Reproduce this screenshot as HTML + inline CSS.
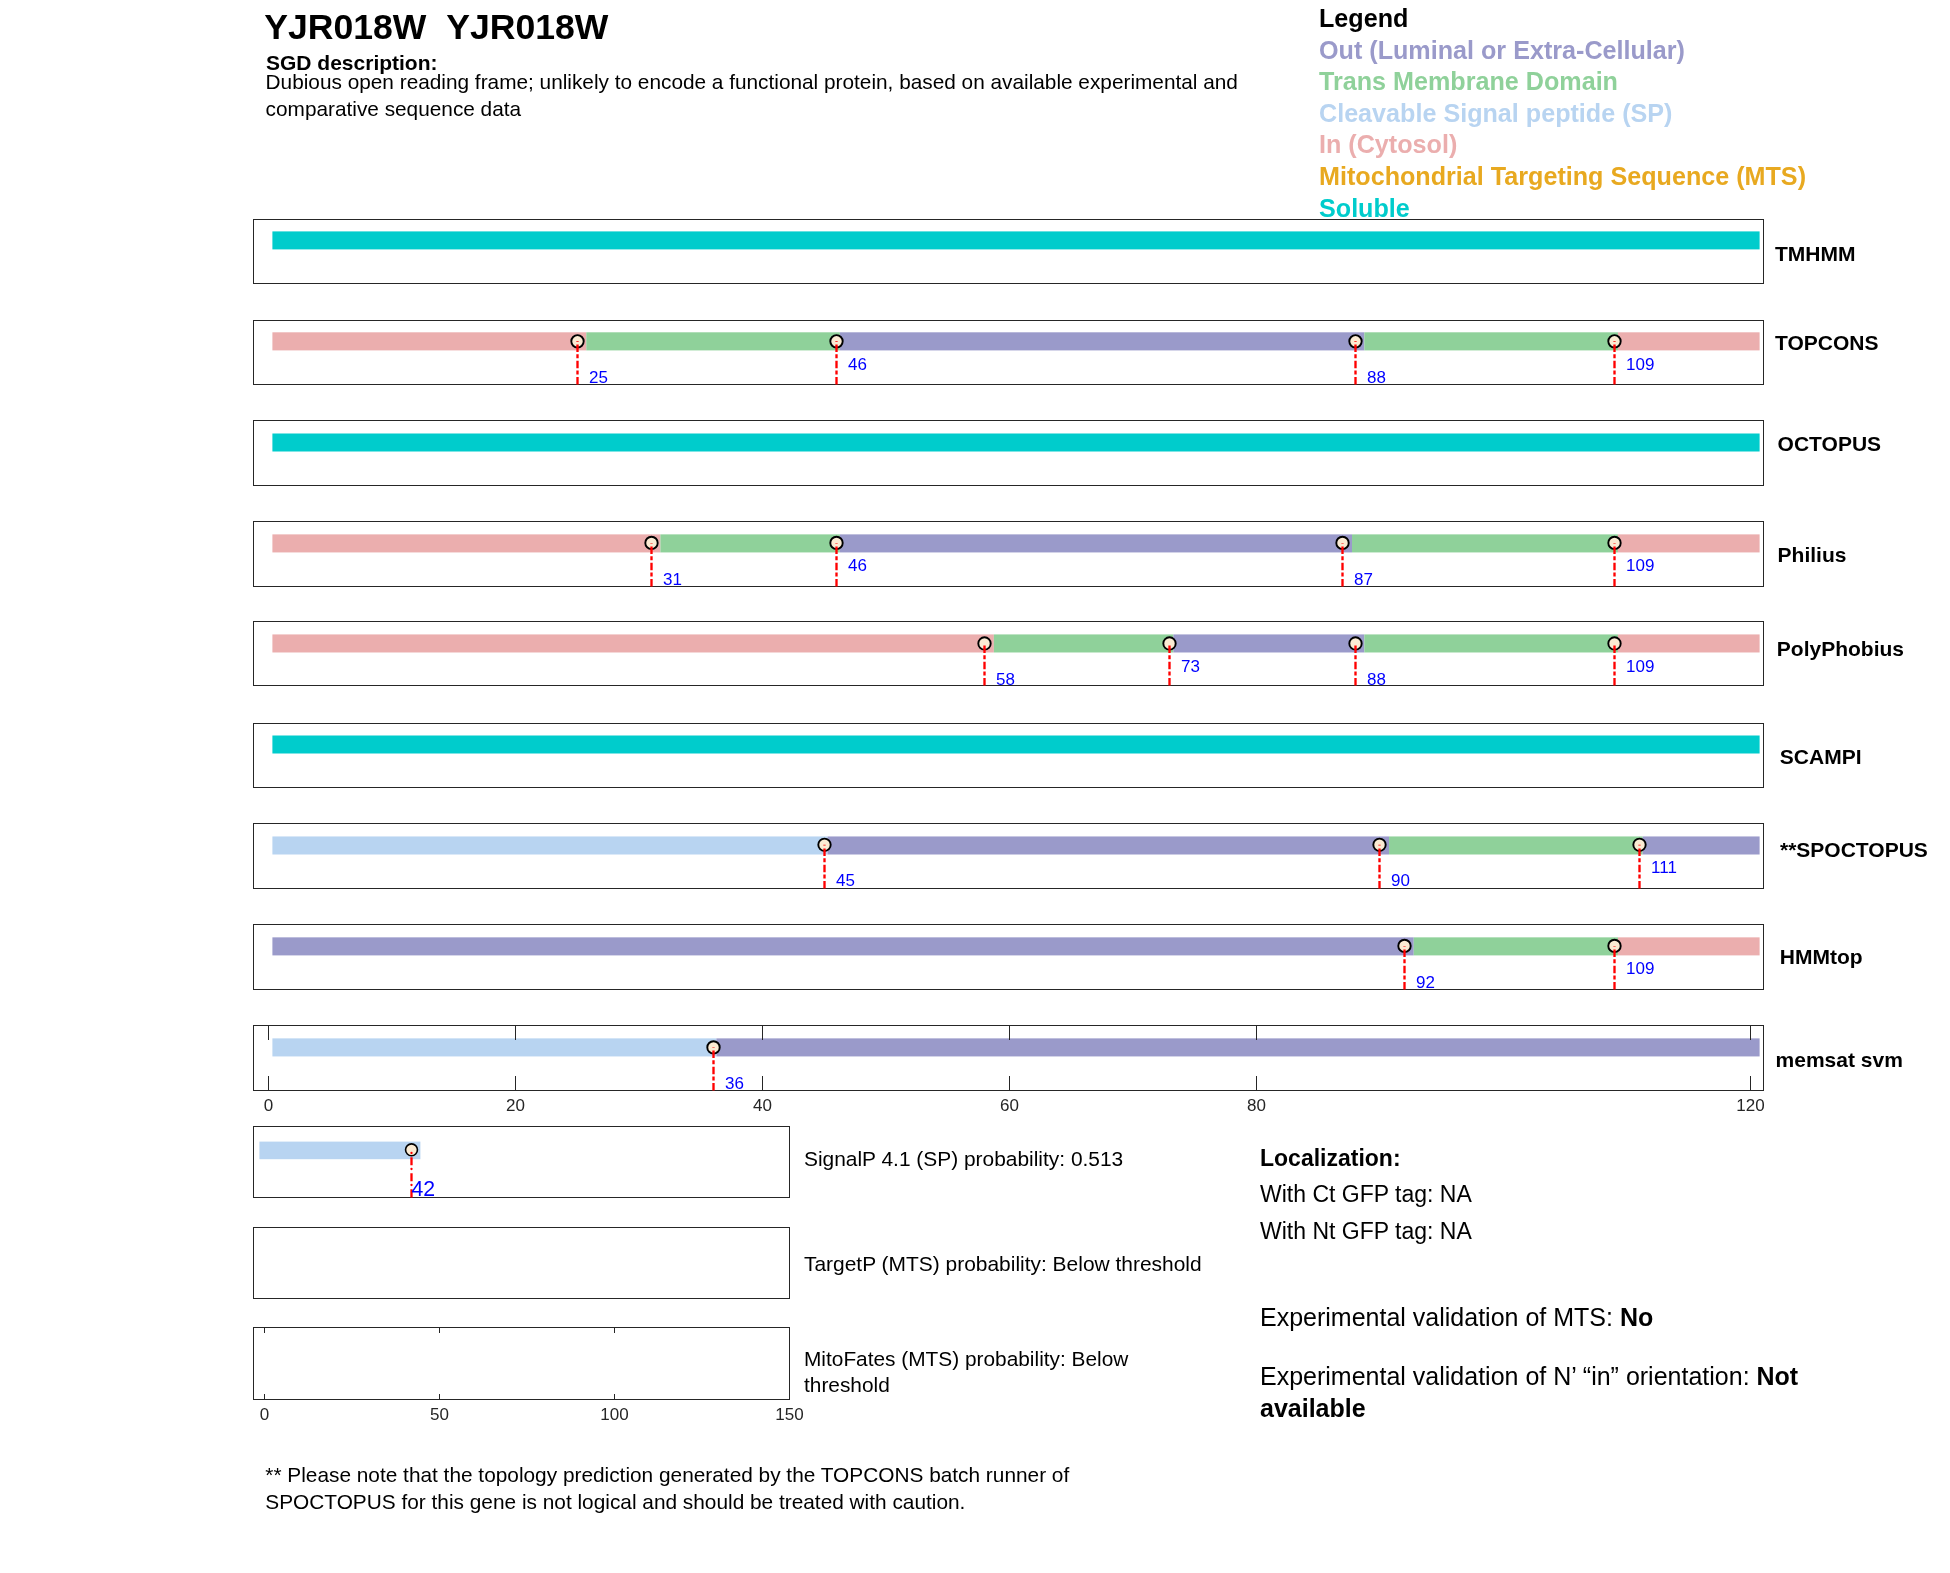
<!DOCTYPE html>
<html><head><meta charset="utf-8"><title>YJR018W</title>
<style>
html,body{margin:0;padding:0;background:#fff;}
body{width:1950px;height:1573px;overflow:hidden;position:relative;}
svg{position:absolute;left:0;top:0;will-change:transform;}
text{font-family:"Liberation Sans",sans-serif;}
</style></head><body>
<svg width="1950" height="1573" viewBox="0 0 1950 1573">
<rect x="0" y="0" width="1950" height="1573" fill="#fff"/>

<text x="264.3" y="38.8" font-size="35.6" font-weight="bold" fill="#000">YJR018W&#160;&#160;YJR018W</text>
<text x="266" y="69.8" font-size="21" font-weight="bold" fill="#000">SGD description:</text>
<text x="265.6" y="88.7" font-size="20.8" fill="#000">Dubious open reading frame; unlikely to encode a functional protein, based on available experimental and</text>
<text x="265.6" y="115.7" font-size="20.8" fill="#000">comparative sequence data</text>
<text x="1319" y="27.0" font-size="25.15" font-weight="bold" fill="#000">Legend</text>
<text x="1319" y="58.6" font-size="25.15" font-weight="bold" fill="#9A9ACA">Out (Luminal or Extra-Cellular)</text>
<text x="1319" y="90.2" font-size="25.15" font-weight="bold" fill="#8FD19A">Trans Membrane Domain</text>
<text x="1319" y="121.8" font-size="25.15" font-weight="bold" fill="#B8D4F1">Cleavable Signal peptide (SP)</text>
<text x="1319" y="153.4" font-size="25.15" font-weight="bold" fill="#EBAEAE">In (Cytosol)</text>
<text x="1319" y="185.0" font-size="25.15" font-weight="bold" fill="#E8A920">Mitochondrial Targeting Sequence (MTS)</text>
<text x="1319" y="216.6" font-size="25.15" font-weight="bold" fill="#00CCCC">Soluble</text>
<rect x="253.5" y="219.5" width="1510" height="64" fill="none" stroke="#262626" stroke-width="1"/>
<rect x="272.40" y="231.40" width="1487.20" height="18.00" fill="#00CCCC"/>
<text x="1775.00" y="261.15" font-size="21" font-weight="bold" fill="#000">TMHMM</text>
<rect x="253.5" y="320.5" width="1510" height="64" fill="none" stroke="#262626" stroke-width="1"/>
<rect x="272.40" y="332.30" width="313.90" height="18.10" fill="#EBAEAE"/>
<rect x="586.30" y="332.30" width="253.60" height="18.10" fill="#8FD19A"/>
<rect x="839.90" y="332.30" width="524.45" height="18.10" fill="#9A9ACA"/>
<rect x="1364.35" y="332.30" width="253.60" height="18.10" fill="#8FD19A"/>
<rect x="1617.95" y="332.30" width="141.65" height="18.10" fill="#EBAEAE"/>
<circle cx="577.50" cy="341.35" r="6.2" fill="#FBEBD3" stroke="#000" stroke-width="1.9"/>
<path d="M577.50 376.90V384.50M577.50 370.40V374.40M577.50 360.70V368.30M577.50 354.20V358.20M577.50 344.50V352.10M577.50 341.35V341.95" stroke="#FF0000" stroke-width="2.35" fill="none"/>
<text x="589.00" y="382.95" font-size="17" fill="#0000FF">25</text>
<circle cx="836.50" cy="341.35" r="6.2" fill="#FBEBD3" stroke="#000" stroke-width="1.9"/>
<path d="M836.50 376.90V384.50M836.50 370.40V374.40M836.50 360.70V368.30M836.50 354.20V358.20M836.50 344.50V352.10M836.50 341.35V341.95" stroke="#FF0000" stroke-width="2.35" fill="none"/>
<text x="848.00" y="369.75" font-size="17" fill="#0000FF">46</text>
<circle cx="1355.50" cy="341.35" r="6.2" fill="#FBEBD3" stroke="#000" stroke-width="1.9"/>
<path d="M1355.50 376.90V384.50M1355.50 370.40V374.40M1355.50 360.70V368.30M1355.50 354.20V358.20M1355.50 344.50V352.10M1355.50 341.35V341.95" stroke="#FF0000" stroke-width="2.35" fill="none"/>
<text x="1367.00" y="382.95" font-size="17" fill="#0000FF">88</text>
<circle cx="1614.50" cy="341.35" r="6.2" fill="#FBEBD3" stroke="#000" stroke-width="1.9"/>
<path d="M1614.50 376.90V384.50M1614.50 370.40V374.40M1614.50 360.70V368.30M1614.50 354.20V358.20M1614.50 344.50V352.10M1614.50 341.35V341.95" stroke="#FF0000" stroke-width="2.35" fill="none"/>
<text x="1626.00" y="369.75" font-size="17" fill="#0000FF">109</text>
<text x="1775.00" y="350.00" font-size="21" font-weight="bold" fill="#000">TOPCONS</text>
<rect x="253.5" y="420.5" width="1510" height="65" fill="none" stroke="#262626" stroke-width="1"/>
<rect x="272.40" y="433.50" width="1487.20" height="18.00" fill="#00CCCC"/>
<text x="1777.60" y="451.10" font-size="21" font-weight="bold" fill="#000">OCTOPUS</text>
<rect x="253.5" y="521.5" width="1510" height="65" fill="none" stroke="#262626" stroke-width="1"/>
<rect x="272.40" y="534.37" width="388.00" height="18.06" fill="#EBAEAE"/>
<rect x="660.40" y="534.37" width="179.50" height="18.06" fill="#8FD19A"/>
<rect x="839.90" y="534.37" width="512.10" height="18.06" fill="#9A9ACA"/>
<rect x="1352.00" y="534.37" width="265.95" height="18.06" fill="#8FD19A"/>
<rect x="1617.95" y="534.37" width="141.65" height="18.06" fill="#EBAEAE"/>
<circle cx="651.50" cy="542.90" r="6.2" fill="#FBEBD3" stroke="#000" stroke-width="1.9"/>
<path d="M651.50 578.90V586.50M651.50 572.40V576.40M651.50 562.70V570.30M651.50 556.20V560.20M651.50 546.50V554.10M651.50 542.90V543.50" stroke="#FF0000" stroke-width="2.35" fill="none"/>
<text x="663.00" y="584.50" font-size="17" fill="#0000FF">31</text>
<circle cx="836.50" cy="542.90" r="6.2" fill="#FBEBD3" stroke="#000" stroke-width="1.9"/>
<path d="M836.50 578.90V586.50M836.50 572.40V576.40M836.50 562.70V570.30M836.50 556.20V560.20M836.50 546.50V554.10M836.50 542.90V543.50" stroke="#FF0000" stroke-width="2.35" fill="none"/>
<text x="848.00" y="571.30" font-size="17" fill="#0000FF">46</text>
<circle cx="1342.50" cy="542.90" r="6.2" fill="#FBEBD3" stroke="#000" stroke-width="1.9"/>
<path d="M1342.50 578.90V586.50M1342.50 572.40V576.40M1342.50 562.70V570.30M1342.50 556.20V560.20M1342.50 546.50V554.10M1342.50 542.90V543.50" stroke="#FF0000" stroke-width="2.35" fill="none"/>
<text x="1354.00" y="584.50" font-size="17" fill="#0000FF">87</text>
<circle cx="1614.50" cy="542.90" r="6.2" fill="#FBEBD3" stroke="#000" stroke-width="1.9"/>
<path d="M1614.50 578.90V586.50M1614.50 572.40V576.40M1614.50 562.70V570.30M1614.50 556.20V560.20M1614.50 546.50V554.10M1614.50 542.90V543.50" stroke="#FF0000" stroke-width="2.35" fill="none"/>
<text x="1626.00" y="571.30" font-size="17" fill="#0000FF">109</text>
<text x="1777.60" y="561.90" font-size="21" font-weight="bold" fill="#000">Philius</text>
<rect x="253.5" y="621.5" width="1510" height="64" fill="none" stroke="#262626" stroke-width="1"/>
<rect x="272.40" y="634.42" width="721.45" height="18.06" fill="#EBAEAE"/>
<rect x="993.85" y="634.42" width="179.50" height="18.06" fill="#8FD19A"/>
<rect x="1173.35" y="634.42" width="191.00" height="18.06" fill="#9A9ACA"/>
<rect x="1364.35" y="634.42" width="253.60" height="18.06" fill="#8FD19A"/>
<rect x="1617.95" y="634.42" width="141.65" height="18.06" fill="#EBAEAE"/>
<circle cx="984.50" cy="643.45" r="6.2" fill="#FBEBD3" stroke="#000" stroke-width="1.9"/>
<path d="M984.50 677.90V685.50M984.50 671.40V675.40M984.50 661.70V669.30M984.50 655.20V659.20M984.50 645.50V653.10" stroke="#FF0000" stroke-width="2.35" fill="none"/>
<text x="996.00" y="685.05" font-size="17" fill="#0000FF">58</text>
<circle cx="1169.50" cy="643.45" r="6.2" fill="#FBEBD3" stroke="#000" stroke-width="1.9"/>
<path d="M1169.50 677.90V685.50M1169.50 671.40V675.40M1169.50 661.70V669.30M1169.50 655.20V659.20M1169.50 645.50V653.10" stroke="#FF0000" stroke-width="2.35" fill="none"/>
<text x="1181.00" y="671.85" font-size="17" fill="#0000FF">73</text>
<circle cx="1355.50" cy="643.45" r="6.2" fill="#FBEBD3" stroke="#000" stroke-width="1.9"/>
<path d="M1355.50 677.90V685.50M1355.50 671.40V675.40M1355.50 661.70V669.30M1355.50 655.20V659.20M1355.50 645.50V653.10" stroke="#FF0000" stroke-width="2.35" fill="none"/>
<text x="1367.00" y="685.05" font-size="17" fill="#0000FF">88</text>
<circle cx="1614.50" cy="643.45" r="6.2" fill="#FBEBD3" stroke="#000" stroke-width="1.9"/>
<path d="M1614.50 677.90V685.50M1614.50 671.40V675.40M1614.50 661.70V669.30M1614.50 655.20V659.20M1614.50 645.50V653.10" stroke="#FF0000" stroke-width="2.35" fill="none"/>
<text x="1626.00" y="671.85" font-size="17" fill="#0000FF">109</text>
<text x="1776.80" y="656.10" font-size="21" font-weight="bold" fill="#000">PolyPhobius</text>
<rect x="253.5" y="723.5" width="1510" height="64" fill="none" stroke="#262626" stroke-width="1"/>
<rect x="272.40" y="735.50" width="1487.20" height="18.00" fill="#00CCCC"/>
<text x="1779.80" y="763.90" font-size="21" font-weight="bold" fill="#000">SCAMPI</text>
<rect x="253.5" y="823.5" width="1510" height="65" fill="none" stroke="#262626" stroke-width="1"/>
<rect x="272.40" y="836.45" width="555.15" height="18.05" fill="#B8D4F1"/>
<rect x="827.55" y="836.45" width="561.50" height="18.05" fill="#9A9ACA"/>
<rect x="1389.05" y="836.45" width="253.60" height="18.05" fill="#8FD19A"/>
<rect x="1642.65" y="836.45" width="116.95" height="18.05" fill="#9A9ACA"/>
<circle cx="824.50" cy="844.80" r="6.2" fill="#FBEBD3" stroke="#000" stroke-width="1.9"/>
<path d="M824.50 880.90V888.50M824.50 874.40V878.40M824.50 864.70V872.30M824.50 858.20V862.20M824.50 848.50V856.10M824.50 844.80V845.40" stroke="#FF0000" stroke-width="2.35" fill="none"/>
<text x="836.00" y="886.40" font-size="17" fill="#0000FF">45</text>
<circle cx="1379.50" cy="844.80" r="6.2" fill="#FBEBD3" stroke="#000" stroke-width="1.9"/>
<path d="M1379.50 880.90V888.50M1379.50 874.40V878.40M1379.50 864.70V872.30M1379.50 858.20V862.20M1379.50 848.50V856.10M1379.50 844.80V845.40" stroke="#FF0000" stroke-width="2.35" fill="none"/>
<text x="1391.00" y="886.40" font-size="17" fill="#0000FF">90</text>
<circle cx="1639.50" cy="844.80" r="6.2" fill="#FBEBD3" stroke="#000" stroke-width="1.9"/>
<path d="M1639.50 880.90V888.50M1639.50 874.40V878.40M1639.50 864.70V872.30M1639.50 858.20V862.20M1639.50 848.50V856.10M1639.50 844.80V845.40" stroke="#FF0000" stroke-width="2.35" fill="none"/>
<text x="1651.00" y="873.20" font-size="17" fill="#0000FF">111</text>
<text x="1780.00" y="857.00" font-size="21" font-weight="bold" fill="#000">**SPOCTOPUS</text>
<rect x="253.5" y="924.5" width="1510" height="65" fill="none" stroke="#262626" stroke-width="1"/>
<rect x="272.40" y="937.35" width="1141.35" height="18.05" fill="#9A9ACA"/>
<rect x="1413.75" y="937.35" width="204.20" height="18.05" fill="#8FD19A"/>
<rect x="1617.95" y="937.35" width="141.65" height="18.05" fill="#EBAEAE"/>
<circle cx="1404.50" cy="945.90" r="6.2" fill="#FBEBD3" stroke="#000" stroke-width="1.9"/>
<path d="M1404.50 981.90V989.50M1404.50 975.40V979.40M1404.50 965.70V973.30M1404.50 959.20V963.20M1404.50 949.50V957.10M1404.50 945.90V946.50" stroke="#FF0000" stroke-width="2.35" fill="none"/>
<text x="1416.00" y="987.50" font-size="17" fill="#0000FF">92</text>
<circle cx="1614.50" cy="945.90" r="6.2" fill="#FBEBD3" stroke="#000" stroke-width="1.9"/>
<path d="M1614.50 981.90V989.50M1614.50 975.40V979.40M1614.50 965.70V973.30M1614.50 959.20V963.20M1614.50 949.50V957.10M1614.50 945.90V946.50" stroke="#FF0000" stroke-width="2.35" fill="none"/>
<text x="1626.00" y="974.30" font-size="17" fill="#0000FF">109</text>
<text x="1779.80" y="963.90" font-size="21" font-weight="bold" fill="#000">HMMtop</text>
<rect x="253.5" y="1025.5" width="1510" height="65" fill="none" stroke="#262626" stroke-width="1"/>
<rect x="272.40" y="1038.37" width="444.00" height="18.06" fill="#B8D4F1"/>
<rect x="716.40" y="1038.37" width="1043.20" height="18.06" fill="#9A9ACA"/>
<circle cx="713.50" cy="1047.40" r="6.2" fill="#FBEBD3" stroke="#000" stroke-width="1.9"/>
<path d="M713.50 1082.90V1090.50M713.50 1076.40V1080.40M713.50 1066.70V1074.30M713.50 1060.20V1064.20M713.50 1050.50V1058.10M713.50 1047.40V1048.00" stroke="#FF0000" stroke-width="2.35" fill="none"/>
<text x="725.00" y="1089.00" font-size="17" fill="#0000FF">36</text>
<text x="1775.60" y="1067.05" font-size="21" font-weight="bold" fill="#000">memsat svm</text>
<path d="M268.50 1025V1040M268.50 1091V1076" stroke="#262626" stroke-width="1"/>
<text x="268.50" y="1111" font-size="17" fill="#262626" text-anchor="middle">0</text>
<path d="M515.50 1025V1040M515.50 1091V1076" stroke="#262626" stroke-width="1"/>
<text x="515.50" y="1111" font-size="17" fill="#262626" text-anchor="middle">20</text>
<path d="M762.50 1025V1040M762.50 1091V1076" stroke="#262626" stroke-width="1"/>
<text x="762.50" y="1111" font-size="17" fill="#262626" text-anchor="middle">40</text>
<path d="M1009.50 1025V1040M1009.50 1091V1076" stroke="#262626" stroke-width="1"/>
<text x="1009.50" y="1111" font-size="17" fill="#262626" text-anchor="middle">60</text>
<path d="M1256.50 1025V1040M1256.50 1091V1076" stroke="#262626" stroke-width="1"/>
<text x="1256.50" y="1111" font-size="17" fill="#262626" text-anchor="middle">80</text>
<path d="M1750.50 1025V1040M1750.50 1091V1076" stroke="#262626" stroke-width="1"/>
<text x="1750.50" y="1111" font-size="17" fill="#262626" text-anchor="middle">120</text>
<rect x="253.5" y="1126.5" width="536" height="71" fill="none" stroke="#262626" stroke-width="1"/>
<rect x="253.5" y="1227.5" width="536" height="71" fill="none" stroke="#262626" stroke-width="1"/>
<rect x="253.5" y="1327.5" width="536" height="72" fill="none" stroke="#262626" stroke-width="1"/>
<rect x="259.4" y="1141.6" width="161" height="17.6" fill="#B8D4F1"/>
<circle cx="411.5" cy="1149.8" r="5.95" fill="#FBEBD3" stroke="#000" stroke-width="1.6"/>
<path d="M411.5 1157.2V1165.2M411.5 1173.2V1181.2M411.5 1189.2V1197.5" stroke="#FF0000" stroke-width="2.3" fill="none"/>
<circle cx="411.5" cy="1153.0" r="1.15" fill="#FF0000"/><circle cx="411.5" cy="1169.0" r="1.15" fill="#FF0000"/><circle cx="411.5" cy="1185.0" r="1.15" fill="#FF0000"/>
<text x="411.5" y="1195.8" font-size="21.3" fill="#0000FF">42</text>
<path d="M264.50 1327V1333M264.50 1400V1394" stroke="#262626" stroke-width="1"/>
<text x="264.50" y="1420" font-size="17" fill="#262626" text-anchor="middle">0</text>
<path d="M439.50 1327V1333M439.50 1400V1394" stroke="#262626" stroke-width="1"/>
<text x="439.50" y="1420" font-size="17" fill="#262626" text-anchor="middle">50</text>
<path d="M614.50 1327V1333M614.50 1400V1394" stroke="#262626" stroke-width="1"/>
<text x="614.50" y="1420" font-size="17" fill="#262626" text-anchor="middle">100</text>
<path d="M789.50 1327V1333M789.50 1400V1394" stroke="#262626" stroke-width="1"/>
<text x="789.50" y="1420" font-size="17" fill="#262626" text-anchor="middle">150</text>
<text x="804" y="1165.8" font-size="20.92" fill="#000">SignalP 4.1 (SP) probability: 0.513</text>
<text x="804" y="1270.8" font-size="20.95" fill="#000">TargetP (MTS) probability: Below threshold</text>
<text x="804" y="1365.8" font-size="20.85" fill="#000">MitoFates (MTS) probability: Below</text>
<text x="804" y="1392.3" font-size="20.85" fill="#000">threshold</text>
<text x="1260" y="1166" font-size="23" font-weight="bold" fill="#000">Localization:</text>
<text x="1260" y="1202.3" font-size="23" fill="#000">With Ct GFP tag: NA</text>
<text x="1260" y="1239.2" font-size="23" fill="#000">With Nt GFP tag: NA</text>
<text x="1260" y="1326" font-size="25" fill="#000">Experimental validation of MTS: <tspan font-weight="bold">No</tspan></text>
<text x="1260" y="1385.4" font-size="25" fill="#000">Experimental validation of N’ “in” orientation: <tspan font-weight="bold">Not</tspan></text>
<text x="1260" y="1416.8" font-size="25" font-weight="bold" fill="#000">available</text>
<text x="265.3" y="1481.9" font-size="20.83" fill="#000">** Please note that the topology prediction generated by the TOPCONS batch runner of</text>
<text x="265.3" y="1508.8" font-size="20.83" fill="#000">SPOCTOPUS for this gene is not logical and should be treated with caution.</text>
</svg></body></html>
